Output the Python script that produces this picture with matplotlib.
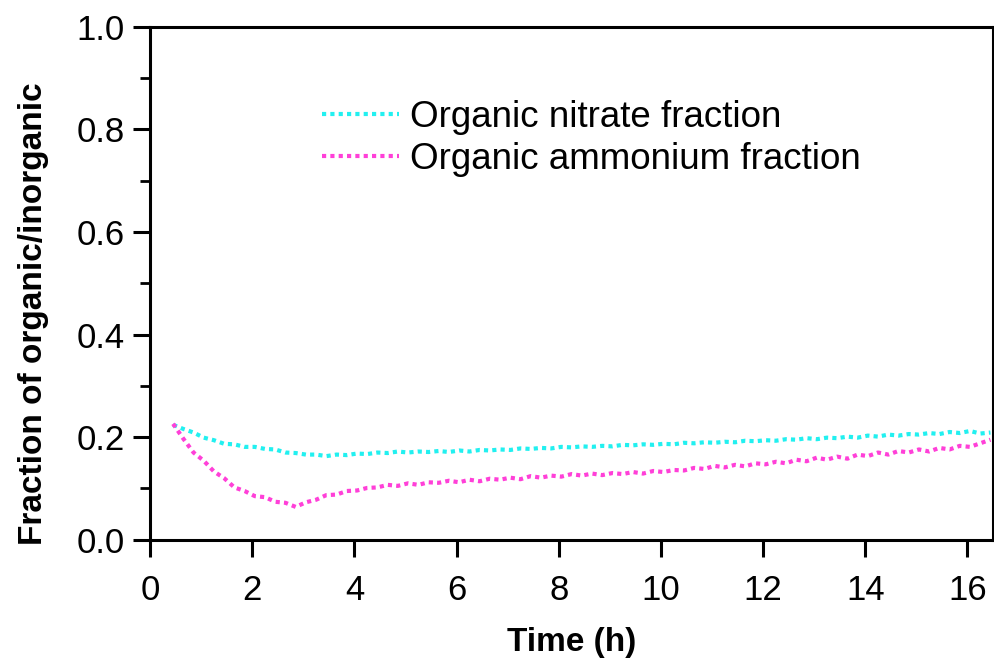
import numpy as np
import matplotlib.pyplot as plt

plt.rcParams['font.family'] = ['Liberation Sans', 'DejaVu Sans']

# sample times (h)
time_h = [0.45, 0.65, 0.85, 1.05, 1.25, 1.45, 1.65, 1.85, 2.05, 2.25,
          2.45, 2.65, 2.85, 3.05, 3.25, 3.45, 3.65, 3.85, 4.05, 4.25,
          4.45, 4.65, 4.85, 5.05, 5.25, 5.45, 5.65, 5.85, 6.05, 6.25,
          6.45, 6.65, 6.85, 7.05, 7.25, 7.45, 7.65, 7.85, 8.05, 8.25,
          8.45, 8.65, 8.85, 9.05, 9.25, 9.45, 9.65, 9.85, 10.05, 10.25,
          10.45, 10.65, 10.85, 11.05, 11.25, 11.45, 11.65, 11.85, 12.05, 12.25,
          12.45, 12.65, 12.85, 13.05, 13.25, 13.45, 13.65, 13.85, 14.05, 14.25,
          14.45, 14.65, 14.85, 15.05, 15.25, 15.45, 15.65, 15.85, 16.05, 16.25,
          16.45]

nitrate_frac = [0.224, 0.216, 0.209, 0.199, 0.194, 0.187, 0.186, 0.181, 0.181, 0.177,
                0.176, 0.170, 0.169, 0.166, 0.166, 0.163, 0.166, 0.165, 0.168, 0.167,
                0.170, 0.169, 0.172, 0.170, 0.172, 0.171, 0.173, 0.171, 0.174, 0.172,
                0.175, 0.174, 0.176, 0.175, 0.178, 0.177, 0.179, 0.178, 0.181, 0.180,
                0.182, 0.181, 0.183, 0.182, 0.185, 0.184, 0.186, 0.185, 0.187, 0.186,
                0.189, 0.188, 0.190, 0.189, 0.191, 0.190, 0.193, 0.192, 0.194, 0.193,
                0.196, 0.195, 0.198, 0.196, 0.199, 0.198, 0.201, 0.199, 0.203, 0.201,
                0.205, 0.203, 0.206, 0.205, 0.208, 0.206, 0.210, 0.208, 0.212, 0.207,
                0.209]

ammonium_frac = [0.226, 0.197, 0.170, 0.154, 0.133, 0.120, 0.102, 0.095, 0.085, 0.083,
                 0.074, 0.072, 0.064, 0.073, 0.078, 0.087, 0.088, 0.095, 0.096, 0.101,
                 0.102, 0.107, 0.105, 0.110, 0.107, 0.112, 0.111, 0.115, 0.112, 0.117,
                 0.114, 0.119, 0.117, 0.121, 0.118, 0.124, 0.121, 0.125, 0.123, 0.128,
                 0.125, 0.129, 0.126, 0.130, 0.128, 0.132, 0.129, 0.134, 0.132, 0.136,
                 0.135, 0.140, 0.138, 0.144, 0.141, 0.146, 0.143, 0.149, 0.147, 0.152,
                 0.149, 0.156, 0.153, 0.160, 0.156, 0.162, 0.158, 0.166, 0.163, 0.170,
                 0.166, 0.173, 0.170, 0.176, 0.172, 0.179, 0.176, 0.183, 0.181, 0.188,
                 0.195]

fig = plt.figure(figsize=(9.94, 6.68), dpi=100)
ax = fig.add_axes([0.151, 0.192, 0.848, 0.768])

ax.plot(time_h, nitrate_frac, color='#22f0f0', lw=3, ls=(0, (1, 1)),
        label='Organic nitrate fraction')
ax.plot(time_h, ammonium_frac, color='#ff40d8', lw=3, ls=(0, (1, 1)),
        label='Organic ammonium fraction')

ax.set_xlim(0, 16.5)
ax.set_ylim(0, 1.0)
ax.set_xticks(np.arange(0, 17, 2))
ax.set_yticks([0.0, 0.2, 0.4, 0.6, 0.8, 1.0])
ax.set_yticks([0.1, 0.3, 0.5, 0.7, 0.9], minor=True)
ax.set_yticklabels(['0.0', '0.2', '0.4', '0.6', '0.8', '1.0'])

ax.tick_params(which='major', direction='out', length=12, width=2.2,
               labelsize=25)
ax.tick_params(axis='y', which='major', pad=6)
ax.tick_params(axis='x', which='major', pad=13)
ax.tick_params(which='minor', direction='out', length=7, width=2.0)
for s in ax.spines.values():
    s.set_linewidth(2.2)

ax.set_xlabel('Time (h)', fontsize=24, fontweight='bold', labelpad=14)
ax.set_ylabel('Fraction of organic/inorganic', fontsize=24, fontweight='bold')
ax.yaxis.set_label_coords(-0.12, 0.44)

ax.legend(loc='upper left', bbox_to_anchor=(0.204, 0.858), frameon=False,
          fontsize=26.5, handlelength=2.1, handletextpad=0.3, labelspacing=0.2,
          borderaxespad=0, borderpad=0)

fig.savefig('out.png', dpi=100)
